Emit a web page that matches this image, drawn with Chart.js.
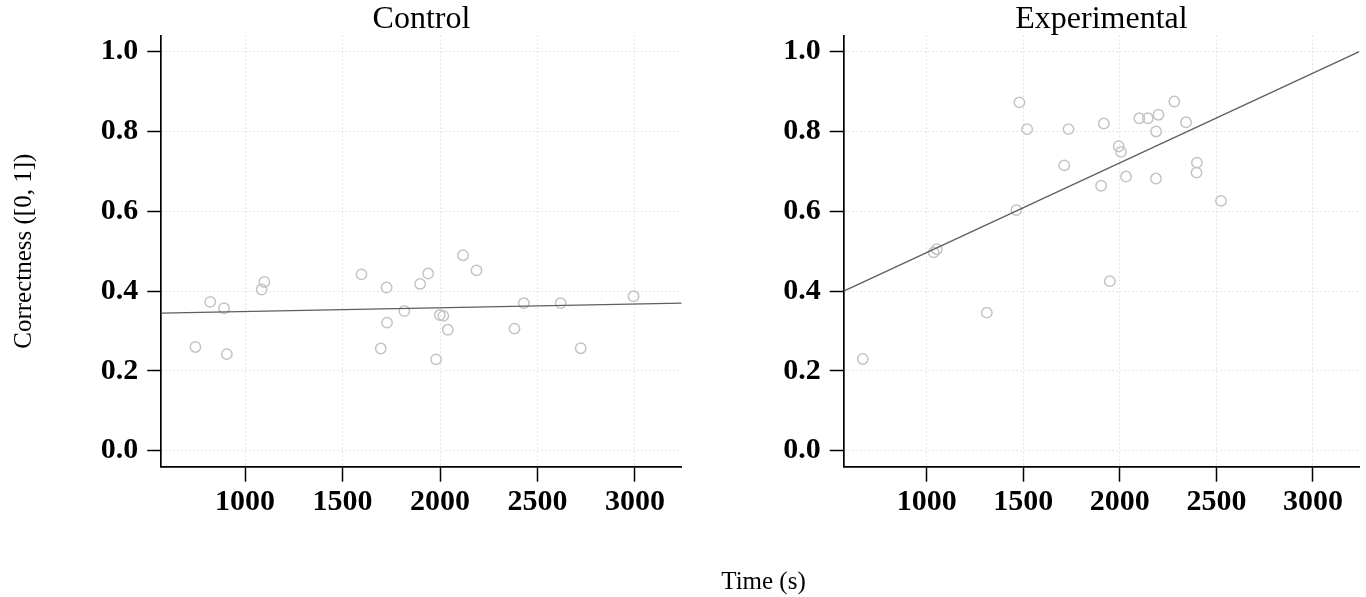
<!DOCTYPE html>
<html>
<head>
<meta charset="utf-8">
<title>Correctness vs. time</title>
<script src="https://cdn.jsdelivr.net/npm/chart.js@4/dist/chart.umd.min.js"></script>
<style>
  html, body { margin: 0; padding: 0; background: #fff; overflow: hidden; }
  #page { position: relative; width: 1366px; height: 597px; }
  #leftPanel { position: absolute; left: 0; top: 0; }
  #rightPanel { position: absolute; left: 683px; top: 0; }
  #xTitle {
    position: absolute; left: 613.5px; width: 300px; top: 568px;
    text-align: center; font-family: 'Liberation Serif', 'Times New Roman', serif;
    font-size: 25px; line-height: 25px; color: #000; white-space: nowrap;
  }
</style>
</head>
<body>
<div id="page">
  <canvas id="leftPanel" width="700" height="597"></canvas>
  <canvas id="rightPanel" width="683" height="597"></canvas>
  <div id="xTitle">Time (s)</div>
</div>
<script>
// Time spent (s) and correctness score for each participant
const controlTime = [745, 821, 892, 906, 1085, 1099, 1597, 1696, 1726, 1728, 1817, 1898, 1939, 1980, 1999, 2017, 2040, 2118, 2187, 2382, 2430, 2619, 2722, 2993];
const controlCorrect = [0.260, 0.373, 0.357, 0.242, 0.404, 0.423, 0.442, 0.256, 0.409, 0.321, 0.350, 0.418, 0.444, 0.229, 0.340, 0.338, 0.303, 0.490, 0.452, 0.306, 0.370, 0.370, 0.257, 0.387];

const experimentalTime = [669, 1036, 1052, 1311, 1464, 1480, 1520, 1712, 1734, 1903, 1917, 1948, 1994, 2006, 2032, 2101, 2145, 2187, 2188, 2200, 2282, 2343, 2397, 2399, 2524];
const experimentalCorrect = [0.230, 0.497, 0.505, 0.346, 0.603, 0.873, 0.806, 0.715, 0.806, 0.664, 0.820, 0.425, 0.763, 0.749, 0.687, 0.833, 0.833, 0.682, 0.800, 0.842, 0.875, 0.823, 0.697, 0.722, 0.626];

// Least-squares fit lines, given at the ends of the time axis
const fitTime = [570, 3240];
const controlFit = [0.345, 0.370];
const experimentalFit = [0.400, 1.000];

// Axis ranges and tick values
const timeRange = [570, 3240];
const correctRange = [-0.04, 1.04];
const timeTicks = [1000, 1500, 2000, 2500, 3000];
const correctTicks = [0.0, 0.2, 0.4, 0.6, 0.8, 1.0];

const SERIF = "'Liberation Serif', 'Times New Roman', serif";
const CANVAS_H = 597;
const PLOT_BOTTOM = 466.7;

function toPoints(xs, ys) {
  return xs.map((x, i) => ({ x: x, y: ys[i] }));
}

function panelConfig(opts) {
  return {
    type: 'scatter',
    data: {
      datasets: [
        {
          label: 'fit',
          data: toPoints(fitTime, opts.fit),
          showLine: true,
          borderColor: '#5e5e5e',
          borderWidth: 1.3,
          pointRadius: 0,
          order: 0
        },
        {
          label: opts.title,
          data: toPoints(opts.time, opts.correct),
          showLine: false,
          pointRadius: 5.2,
          pointBorderWidth: 1.5,
          pointBorderColor: '#c4c4c4',
          pointBackgroundColor: 'rgba(255,255,255,0)',
          order: 1
        }
      ]
    },
    options: {
      responsive: false,
      animation: false,
      events: [],
      layout: { padding: { left: 0, right: opts.rightPad, top: 0, bottom: 0 } },
      plugins: {
        legend: { display: false },
        tooltip: { enabled: false },
        title: {
          display: true,
          text: opts.title,
          fullSize: false,
          color: '#000',
          font: { family: SERIF, size: 32, weight: 'normal', lineHeight: 1 },
          padding: { top: 3.7, bottom: 0 }
        }
      },
      scales: {
        x: {
          type: 'linear',
          min: timeRange[0],
          max: timeRange[1],
          afterBuildTicks: s => { s.ticks = timeTicks.map(v => ({ value: v })); },
          afterFit: s => { s.height = CANVAS_H - PLOT_BOTTOM; },
          grid: {
            color: '#cdcdcd', lineWidth: 1,
            drawTicks: true, tickLength: 15, tickColor: '#000', tickWidth: 1.5, tickBorderDash: []
          },
          border: { display: true, color: '#000', width: 1.7, dash: [1, 3] },
          ticks: {
            color: '#000', padding: 3, maxRotation: 0, autoSkip: false,
            font: { family: SERIF, size: 30, weight: 'bold', lineHeight: 1.2 },
            callback: v => String(v)
          }
        },
        y: {
          type: 'linear',
          min: correctRange[0],
          max: correctRange[1],
          afterBuildTicks: s => { s.ticks = correctTicks.map(v => ({ value: v })); },
          afterFit: s => { s.width = opts.yWidth; },
          grid: {
            color: '#cdcdcd', lineWidth: 1,
            drawTicks: true, tickLength: 14, tickColor: '#000', tickWidth: 1.5, tickBorderDash: []
          },
          border: { display: true, color: '#000', width: 1.7, dash: [1, 3] },
          ticks: {
            color: '#000', padding: 9, autoSkip: false,
            font: { family: SERIF, size: 30, weight: 'bold', lineHeight: 1 },
            callback: v => Number(v).toFixed(1)
          },
          title: {
            display: opts.yTitle,
            text: 'Correctness ([0, 1])',
            color: '#000',
            font: { family: SERIF, size: 25, lineHeight: 1.2 },
            padding: { top: 9.5, bottom: 0 }
          }
        }
      }
    }
  };
}

new Chart(document.getElementById('leftPanel'), panelConfig({
  title: 'Control',
  time: controlTime,
  correct: controlCorrect,
  fit: controlFit,
  yWidth: 161.3,
  rightPad: 18.3,
  yTitle: true
}));

new Chart(document.getElementById('rightPanel'), panelConfig({
  title: 'Experimental',
  time: experimentalTime,
  correct: experimentalCorrect,
  fit: experimentalFit,
  yWidth: 160.7,
  rightPad: 0,
  yTitle: false
}));
</script>
</body>
</html>
